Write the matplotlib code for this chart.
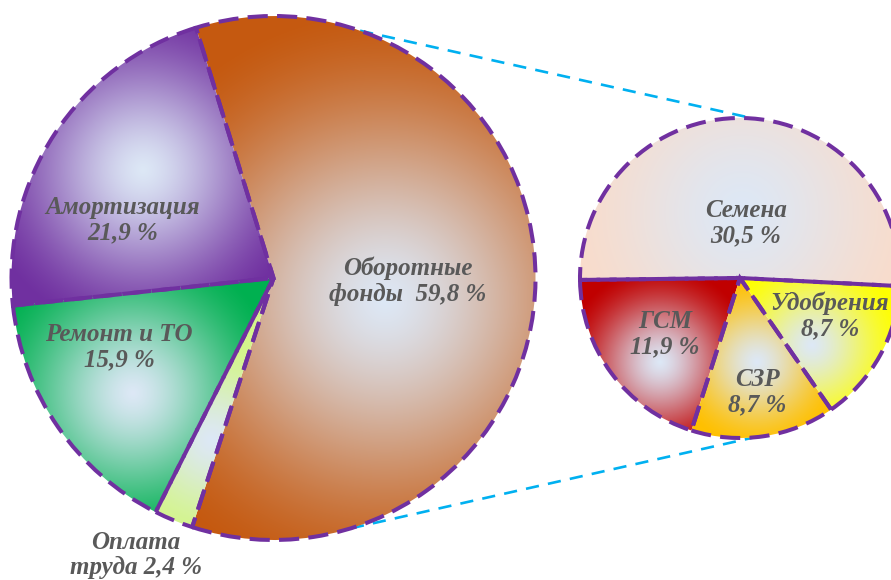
import numpy as np
import matplotlib
matplotlib.use("Agg")
import matplotlib.pyplot as plt
from matplotlib.colors import to_rgb

# cost structure, % of total
main_labels = ["Оборотные\nфонды ", "Оплата\nтруда", "Ремонт и ТО", "Амортизация"]
main_values = [59.8, 2.4, 15.9, 21.9]

# breakdown of "Оборотные фонды", % of total
sub_labels = ["ГСМ", "СЗР", "Удобрения", "Семена"]
sub_values = [11.9, 8.7, 8.7, 30.5]

W, H = 891, 580
main_center, main_r = (273.5, H - 278), 262
sub_center, sub_r = (740, H - 278), 160

main_edges = ["#c55a11", "#d4f58c", "#00b050", "#7030a0"]
sub_edges = ["#c00000", "#ffc000", "#ffff00", "#f9dccb"]
glow = "#dde8f6"

# highlight spot (pixel coords) and spread of each gradient
main_glow = [((385, 300), 285), ((212, 440), 95), ((133, 393), 150), ((143, 170), 165)]
sub_glow = [((660, 362), 95), ((757, 362), 85), ((812, 345), 90), ((742, 212), 175)]

main_text = [(408, 281), (136, 555), (119, 347), (123, 220)]
sub_text = [(665, 334), (757, 392), (830, 316), (746, 223)]

edge_purple = "#7030a0"
text_color = "#595959"

fig = plt.figure(figsize=(W / 100, H / 100), dpi=100)
ax = fig.add_axes([0, 0, 1, 1])

xx, yy = np.meshgrid(np.arange(W) + 0.5, np.arange(H) + 0.5)


def shade(wedge, spot, spread, edge):
    cx, cy = spot[0], H - spot[1]
    t = np.clip(np.hypot(xx - cx, yy - cy) / spread, 0, 1)
    t = t * t * (3 - 2 * t) * 0.6 + t * 0.4
    c0, c1 = np.array(to_rgb(glow)), np.array(to_rgb(edge))
    img = c0 + (c1 - c0) * t[..., None]
    im = ax.imshow(img, extent=(0, W, 0, H), origin="lower", zorder=2,
                   interpolation="bilinear")
    im.set_clip_path(wedge)


def draw_pie(values, center, radius, start, clockwise, edges, glows):
    wedges, _ = ax.pie(values, center=center, radius=radius, startangle=start,
                       counterclock=not clockwise, frame=True,
                       wedgeprops=dict(linewidth=0))
    for w, col, (spot, spread) in zip(wedges, edges, glows):
        shade(w, spot, spread, col)
        w.set_facecolor("none")
        w.set_edgecolor(edge_purple)
        w.set_linewidth(2.9)
        w.set_linestyle((0, (5, 2.3)))
        w.set_zorder(3)
    return wedges


draw_pie(main_values, main_center, main_r, 107.2, True, main_edges, main_glow)
draw_pie(sub_values, sub_center, sub_r, 180.7, False, sub_edges, sub_glow)

# connectors between the two pies
for a_main, a_sub in [(70.7, 85.0), (-72.8, -85.0)]:
    p = np.radians([a_main, a_sub])
    x0 = main_center[0] + main_r * np.cos(p[0])
    y0 = main_center[1] + main_r * np.sin(p[0])
    x1 = sub_center[0] + sub_r * np.cos(p[1])
    y1 = sub_center[1] + sub_r * np.sin(p[1])
    ax.plot([x0, x1], [y0, y1], color="#00b0f0", lw=1.9,
            linestyle=(0, (5, 3.5)), zorder=1.5, solid_capstyle="butt")


def pct(v):
    return f"{v:.1f} %".replace(".", ",")


font = dict(family="Liberation Serif", weight="bold", style="italic",
            size=18, color=text_color, ha="center", va="center",
            linespacing=1.15, zorder=5)

for lab, v, (x, y) in zip(main_labels, main_values, main_text):
    if "\n" in lab:
        s = lab.rstrip(" ") + (" " * (lab.endswith(" ") + 1)) + pct(v)
    else:
        s = lab + "\n" + pct(v)
    ax.text(x, H - y, s, **font)

for lab, v, (x, y) in zip(sub_labels, sub_values, sub_text):
    ax.text(x, H - y, lab + "\n" + pct(v), **font)

ax.set_xlim(0, W)
ax.set_ylim(0, H)
ax.set_aspect("equal")
ax.axis("off")

fig.savefig("out.png", dpi=100)
